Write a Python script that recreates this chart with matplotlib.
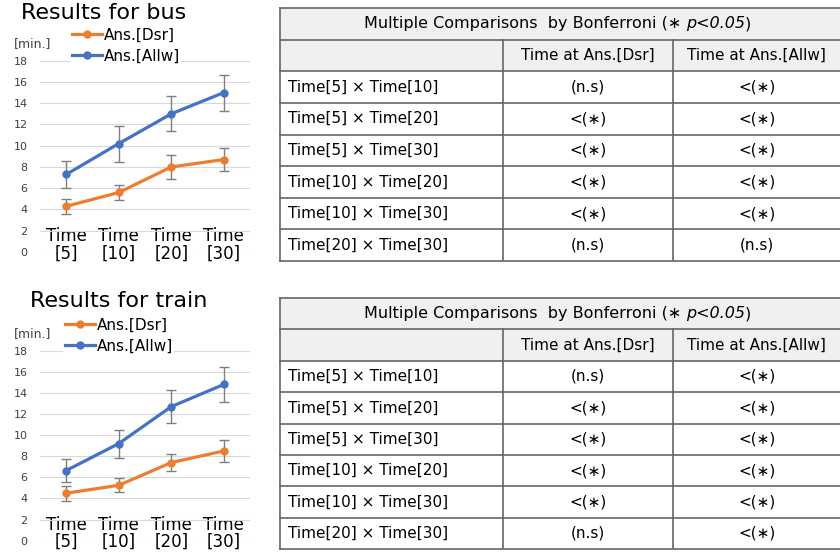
import numpy as np
import matplotlib
matplotlib.use("Agg")
import matplotlib.pyplot as plt
from matplotlib.lines import Line2D

# chart data
times = ["Time\n[5]", "Time\n[10]", "Time\n[20]", "Time\n[30]"]
series_names = ["Ans.[Dsr]", "Ans.[Allw]"]

bus_dsr = [4.3, 5.6, 8.0, 8.7]
bus_dsr_err = [0.68, 0.7, 1.1, 1.05]
bus_allw = [7.3, 10.2, 13.0, 15.0]
bus_allw_err = [1.25, 1.7, 1.65, 1.7]

train_dsr = [4.5, 5.25, 7.4, 8.5]
train_dsr_err = [0.72, 0.66, 0.82, 1.06]
train_allw = [6.65, 9.2, 12.7, 14.8]
train_allw_err = [1.1, 1.33, 1.55, 1.67]

# table data
table_title = ["Multiple Comparisons  by Bonferroni (\u2217 ", "p<0.05", ")"]
table_header = ["", "Time at Ans.[Dsr]", "Time at Ans.[Allw]"]
pairs = ["Time[5] \u00d7 Time[10]", "Time[5] \u00d7 Time[20]", "Time[5] \u00d7 Time[30]",
         "Time[10] \u00d7 Time[20]", "Time[10] \u00d7 Time[30]", "Time[20] \u00d7 Time[30]"]
bus_res_dsr = ["(n.s)", "<(\u2217)", "<(\u2217)", "<(\u2217)", "<(\u2217)", "(n.s)"]
bus_res_allw = ["<(\u2217)", "<(\u2217)", "<(\u2217)", "<(\u2217)", "<(\u2217)", "(n.s)"]
train_res_dsr = ["(n.s)", "<(\u2217)", "<(\u2217)", "<(\u2217)", "<(\u2217)", "(n.s)"]
train_res_allw = ["<(\u2217)", "<(\u2217)", "<(\u2217)", "<(\u2217)", "<(\u2217)", "<(\u2217)"]

ORANGE = "#ED7D31"
BLUE = "#4472C4"
W, H = 840, 552

fig = plt.figure(figsize=(8.4, 5.52), dpi=100)


def px_box(x0, y0, x1, y1):
    # pixel box (top-left origin) -> figure fraction rect
    return [x0 / W, 1 - y1 / H, (x1 - x0) / W, (y1 - y0) / H]


def line_chart(rect, title, title_xy, dsr, dsr_err, allw, allw_err, min_y, leg_xy):
    ax = fig.add_axes(rect)
    x = np.arange(len(times))
    for vals, errs, col in [(dsr, dsr_err, ORANGE), (allw, allw_err, BLUE)]:
        ax.errorbar(x, vals, yerr=errs, color=col, lw=2.3, marker="o", ms=5,
                    ecolor="#7f7f7f", elinewidth=1, capsize=3.5, capthick=1, zorder=3)
    ax.set_xlim(-0.5, len(times) - 0.5)
    ax.set_ylim(0, 18)
    ax.set_yticks(np.arange(0, 19, 2))
    ax.grid(axis="y", color="#d9d9d9", lw=0.8)
    ax.set_axisbelow(True)
    for s in ax.spines.values():
        s.set_visible(False)
    ax.set_xticks(x)
    ax.set_xticklabels(times, fontsize=12, linespacing=0.95)
    for lbl in ax.get_xticklabels():
        lbl.set_bbox(dict(facecolor="white", edgecolor="none", pad=0))
    ax.tick_params(axis="x", length=0, pad=-18)
    ax.tick_params(axis="y", length=0, labelsize=8, labelcolor="#404040", pad=9)
    fig.text(title_xy[0] / W, 1 - title_xy[1] / H, title, fontsize=16,
             ha="center", va="baseline")
    fig.text(14 / W, 1 - min_y / H, "[min.]", fontsize=9, color="#404040", va="center")
    handles = [Line2D([], [], color=ORANGE, lw=2.3, marker="o", ms=5),
               Line2D([], [], color=BLUE, lw=2.3, marker="o", ms=5)]
    leg = fig.legend(handles, series_names, loc="upper left",
                     bbox_to_anchor=(leg_xy[0] / W, 1 - leg_xy[1] / H), fontsize=11,
                     frameon=True, framealpha=1, edgecolor="none", borderpad=0.1,
                     handlelength=2.0, handletextpad=0.1, labelspacing=0.4,
                     borderaxespad=0)
    leg.get_frame().set_facecolor("white")
    return ax


def draw_table(top, bottom, res_dsr, res_allw):
    ax = fig.add_axes(px_box(279.5, top, 842, bottom))
    ax.set_xlim(0, 562.5)
    ax.set_ylim(8, 0)
    ax.axis("off")
    edges = [0, 223.8, 393.2, 561]
    lc = "#666666"
    ax.fill_between([0, 562.5], 0, 2, color="#f0f0f0", lw=0)
    for r in range(9):
        ax.plot([0, 562.5], [r, r], color=lc, lw=1.2, clip_on=False)
    ax.plot([0, 0], [0, 8], color=lc, lw=1.2, clip_on=False)
    ax.plot([edges[3], edges[3]], [0, 8], color=lc, lw=1.2, clip_on=False)
    for e in edges[1:3]:
        ax.plot([e, e], [1, 8], color=lc, lw=1.2)
    t1 = ax.text(84, 0.5, table_title[0], ha="left", va="center", fontsize=11.5)
    t2 = ax.annotate(table_title[1], xy=(1, 0.5), xycoords=t1, ha="left", va="center",
                     fontsize=11.5, style="italic")
    ax.annotate(table_title[2], xy=(1, 0.5), xycoords=t2, ha="left", va="center",
                fontsize=11.5)
    for c in (1, 2):
        ax.text((edges[c] + edges[c + 1]) / 2, 1.5, table_header[c],
                ha="center", va="center", fontsize=11)
    for i, p in enumerate(pairs):
        y = 2.5 + i
        ax.text(8.5, y, p, ha="left", va="center", fontsize=11)
        ax.text((edges[1] + edges[2]) / 2, y, res_dsr[i], ha="center", va="center", fontsize=11)
        ax.text((edges[2] + edges[3]) / 2, y, res_allw[i], ha="center", va="center", fontsize=11)


line_chart(px_box(40, 60.7, 250, 252), "Results for bus", (104, 19),
           bus_dsr, bus_dsr_err, bus_allw, bus_allw_err, 44, (70, 26))
line_chart(px_box(40, 350.7, 250, 540.7), "Results for train", (119, 307),
           train_dsr, train_dsr_err, train_allw, train_allw_err, 334, (63, 316))

draw_table(8, 261, bus_res_dsr, bus_res_allw)
draw_table(298, 549, train_res_dsr, train_res_allw)

fig.savefig("out.png", dpi=100)
